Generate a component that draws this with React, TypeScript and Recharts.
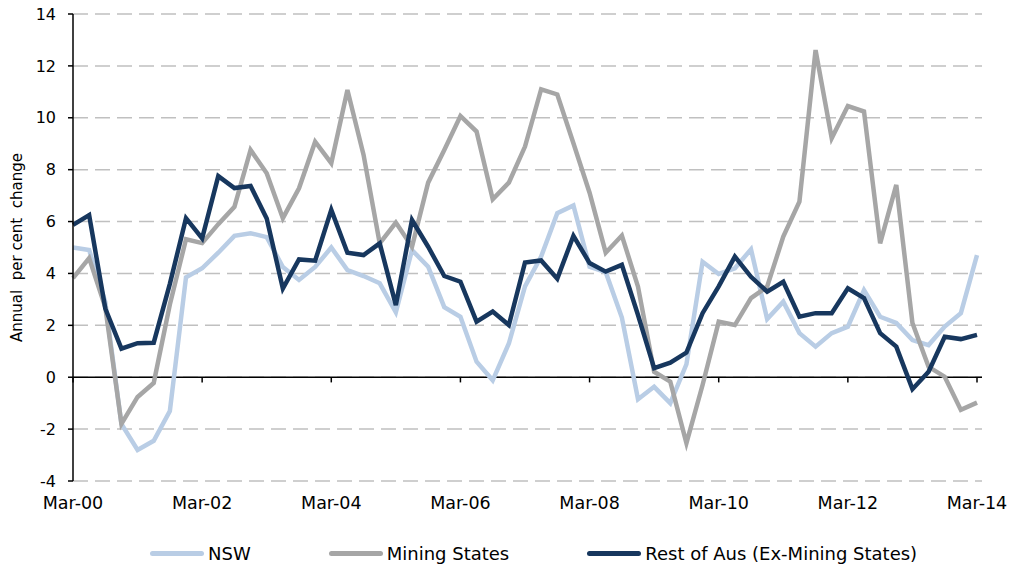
import React from 'react';
import { LineChart, Line, XAxis, YAxis, CartesianGrid, ReferenceLine, Legend } from 'recharts';

const quarters = [
  'Mar-00', 'Jun-00', 'Sep-00', 'Dec-00', 'Mar-01', 'Jun-01', 'Sep-01', 'Dec-01',
  'Mar-02', 'Jun-02', 'Sep-02', 'Dec-02', 'Mar-03', 'Jun-03', 'Sep-03', 'Dec-03',
  'Mar-04', 'Jun-04', 'Sep-04', 'Dec-04', 'Mar-05', 'Jun-05', 'Sep-05', 'Dec-05',
  'Mar-06', 'Jun-06', 'Sep-06', 'Dec-06', 'Mar-07', 'Jun-07', 'Sep-07', 'Dec-07',
  'Mar-08', 'Jun-08', 'Sep-08', 'Dec-08', 'Mar-09', 'Jun-09', 'Sep-09', 'Dec-09',
  'Mar-10', 'Jun-10', 'Sep-10', 'Dec-10', 'Mar-11', 'Jun-11', 'Sep-11', 'Dec-11',
  'Mar-12', 'Jun-12', 'Sep-12', 'Dec-12', 'Mar-13', 'Jun-13', 'Sep-13', 'Dec-13',
  'Mar-14',
];

const nsw = [
  5.0, 4.9, 2.9, -1.8, -2.8, -2.45, -1.3, 3.85,
  4.2, 4.8, 5.45, 5.55, 5.4, 4.25, 3.75, 4.25,
  5.0, 4.13, 3.9, 3.62, 2.5, 4.9, 4.26, 2.7,
  2.33, 0.6, -0.12, 1.3, 3.5, 4.65, 6.32, 6.62,
  4.26, 4.05, 2.3, -0.85, -0.37, -1.0, 0.5, 4.45,
  3.98, 4.2, 4.93, 2.24, 2.91, 1.7, 1.18, 1.7,
  1.95, 3.36, 2.33, 2.09, 1.43, 1.24, 1.95, 2.47,
  4.71,
];

const mining = [
  3.82, 4.59, 2.7, -1.8, -0.76, -0.22, 2.8, 5.32,
  5.17, 5.9, 6.57, 8.76, 7.86, 6.13, 7.28, 9.08,
  8.25, 11.07, 8.57, 5.16, 5.96, 5.03, 7.5, 8.76,
  10.07, 9.47, 6.86, 7.5, 8.89, 11.1, 10.9, 9.02,
  7.11, 4.8, 5.46, 3.49, 0.21, -0.17, -2.54, -0.3,
  2.14, 2.01, 3.05, 3.49, 5.42, 6.77, 12.61, 9.21,
  10.45, 10.24, 5.16, 7.41, 2.09, 0.4, 0.02, -1.26,
  -0.98,
];

const restOfAus = [
  5.87, 6.25, 2.65, 1.1, 1.31, 1.33, 3.6, 6.13,
  5.35, 7.75, 7.29, 7.37, 6.12, 3.42, 4.54, 4.49,
  6.45, 4.8, 4.71, 5.16, 2.78, 6.06, 5.03, 3.9,
  3.68, 2.14, 2.53, 2.01, 4.42, 4.5, 3.8, 5.45,
  4.4, 4.07, 4.33, 2.4, 0.35, 0.56, 0.95, 2.47,
  3.5, 4.65, 3.87, 3.3, 3.68, 2.33, 2.47, 2.47,
  3.43, 3.05, 1.7, 1.18, -0.46, 0.21, 1.56, 1.47,
  1.63,
];

const seriesNames = ['NSW', 'Mining States', 'Rest of Aus (Ex-Mining States)'];

const yTicks = [-4, -2, 0, 2, 4, 6, 8, 10, 12, 14];

const data = quarters.map((q, i) => ({
  q,
  nsw: nsw[i],
  mining: mining[i],
  rest: restOfAus[i],
}));

const labelledQuarters = quarters.filter((_, i) => i % 8 === 0);

const FONT = '"DejaVu Sans", Verdana, sans-serif';

const YTitle = (props: any) => {
  const vb = props.viewBox || { x: 0, y: 14, width: 73, height: 467 };
  const x = vb.x + 22;
  const y = vb.y + vb.height / 2;
  return (
    <text
      x={x}
      y={y}
      transform={`rotate(-90, ${x}, ${y})`}
      textAnchor="middle"
      fontSize={15}
      fill="#000"
      fontFamily={FONT}
      style={{ whiteSpace: 'pre' }}
    >
      Annual  per cent  change
    </text>
  );
};

const LegendContent = (props: any) => {
  const items = [...(props.payload || [])].sort(
    (a: any, b: any) => seriesNames.indexOf(a.value) - seriesNames.indexOf(b.value)
  );
  return (
    <div
      style={{
        height: 46,
        boxSizing: 'border-box',
        paddingTop: 18,
        paddingLeft: 150,
        display: 'flex',
        alignItems: 'center',
        gap: 78,
        fontFamily: FONT,
        fontSize: 18,
        color: '#000',
      }}
    >
      {items.map((it: any) => (
        <div key={it.value} style={{ display: 'flex', alignItems: 'center' }}>
          <span
            style={{
              display: 'inline-block',
              width: 54,
              height: 5,
              borderRadius: 3,
              background: it.color,
              marginRight: 4,
            }}
          />
          <span>{it.value}</span>
        </div>
      ))}
    </div>
  );
};

export default function App() {
  return (
    <div
      style={{
        position: 'absolute',
        top: 0,
        left: 0,
        width: 1010,
        height: 567,
        overflow: 'hidden',
        fontFamily: FONT,
      }}
    >
      <LineChart
        width={1010}
        height={567}
        data={data}
        margin={{ top: 14, right: 28, left: 0, bottom: 0 }}
      >
        <CartesianGrid
          vertical={false}
          stroke="#c0c0c0"
          strokeWidth={1.5}
          strokeDasharray="15 7"
        />
        <XAxis
          dataKey="q"
          interval={7}
          axisLine={false}
          tickLine={false}
          tickSize={0}
          tickMargin={16}
          height={40}
          padding={{ left: 0, right: 5 }}
          tick={{ fill: '#000', fontSize: 17.5, fontFamily: FONT }}
        />
        <YAxis
          domain={[-4, 14]}
          ticks={yTicks}
          interval={0}
          width={73}
          axisLine={{ stroke: '#000', strokeWidth: 1.5 }}
          tickLine={{ stroke: '#000', strokeWidth: 1.5 }}
          tickSize={5}
          tickMargin={12}
          tick={{ fill: '#000', fontSize: 16, fontFamily: FONT }}
          label={YTitle}
        />
        <ReferenceLine y={0} stroke="#000" strokeWidth={1.5} />
        {labelledQuarters.map((q) => (
          <ReferenceLine
            key={q}
            segment={[{ x: q, y: 0 }, { x: q, y: -0.2 }]}
            stroke="#000"
            strokeWidth={1.5}
          />
        ))}
        <Legend
          verticalAlign="bottom"
          align="left"
          content={LegendContent}
          wrapperStyle={{ left: 0, width: 1010 }}
        />
        <Line
          type="linear"
          dataKey="nsw"
          name={seriesNames[0]}
          stroke="#b9cde5"
          strokeWidth={4.5}
          dot={false}
          isAnimationActive={false}
        />
        <Line
          type="linear"
          dataKey="mining"
          name={seriesNames[1]}
          stroke="#a6a6a6"
          strokeWidth={4.5}
          dot={false}
          isAnimationActive={false}
        />
        <Line
          type="linear"
          dataKey="rest"
          name={seriesNames[2]}
          stroke="#17375e"
          strokeWidth={4.5}
          dot={false}
          isAnimationActive={false}
        />
      </LineChart>
    </div>
  );
}
